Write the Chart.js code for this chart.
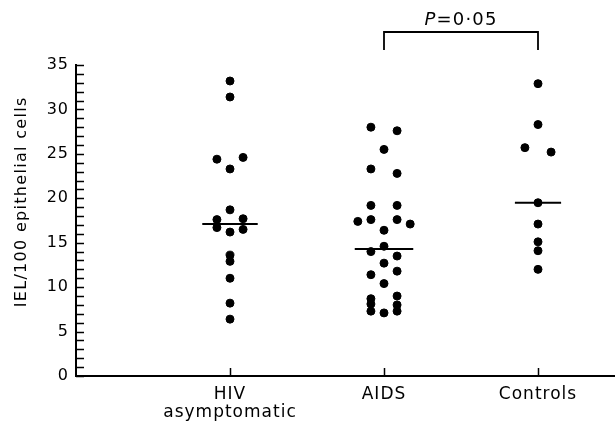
<!DOCTYPE html>
<html>
<head>
<meta charset="utf-8">
<script src="https://cdn.jsdelivr.net/npm/chart.js@4"></script>
<style>
    html, body { margin: 0; padding: 0; background: #fff; }
    #wrap { width: 615px; height: 424px; }
</style>
</head>
<body>
<div id="wrap"><canvas id="myChart" width="615" height="424"></canvas></div>
<script>
// categories along the x axis (one entry per group, multi-line where needed)
const groups = [['HIV', 'asymptomatic'], 'AIDS', 'Controls'];

// IEL per 100 epithelial cells
const hivValues = [33.2, 31.4, 24.4, 24.6, 23.3, 18.7, 17.6, 17.7, 16.7, 16.5, 16.2, 13.6, 12.9, 11.0, 8.2, 6.4];
const hivLanes  = [0, 0, -1, 1, 0, 0, -1, 1, -1, 1, 0, 0, 0, 0, 0, 0];

const aidsValues = [28.0, 27.6, 25.5, 23.3, 22.8, 19.2, 19.2, 17.4, 17.6, 17.6, 17.1, 16.4, 14.6, 14.0, 13.5, 12.7, 11.4, 11.8, 10.4, 8.7, 9.0, 8.1, 8.0, 7.3, 7.3, 7.1];
const aidsLanes  = [-1, 1, 0, -1, 1, -1, 1, -2, -1, 1, 2, 0, 0, -1, 1, 0, -1, 1, 0, -1, 1, -1, 1, -1, 1, 0];

const controlValues = [32.9, 28.3, 25.7, 25.2, 19.5, 17.1, 15.1, 14.1, 12.0];
const controlLanes  = [0, 0, -1, 1, 0, 0, 0, 0, 0];

// median of each group (horizontal bars)
const medians = [17.1, 14.3, 19.5];

const yMax = 35;
const yTickStep = 5;
const yTitle = 'IEL/100 epithelial cells';
const pValueText = '=0\u00B705';

const groupData = [
    { values: hivValues, lanes: hivLanes },
    { values: aidsValues, lanes: aidsLanes },
    { values: controlValues, lanes: controlLanes }
];

const laneGap = 0.085;
const medianHalfWidth = [0.18, 0.19, 0.15];

const points = [];
groupData.forEach((g, i) => {
    g.values.forEach((v, j) => {
        points.push({ x: i + 1 + g.lanes[j] * laneGap, y: v });
    });
});

const datasets = [{
    type: 'scatter',
    data: points,
    backgroundColor: '#000',
    borderColor: '#000',
    pointRadius: 4,
    pointHoverRadius: 4
}];

medians.forEach((m, i) => {
    datasets.push({
        type: 'line',
        data: [{ x: i + 1 - medianHalfWidth[i], y: m }, { x: i + 1 + medianHalfWidth[i], y: m }],
        borderColor: '#000',
        borderWidth: 2,
        pointRadius: 0
    });
});

const FONT = '"DejaVu Sans", sans-serif';

// ticks of this figure point into the plot, so they are drawn here
const innerTicks = {
    id: 'innerTicks',
    beforeDraw(chart) {
        chart.ctx.letterSpacing = '1px';
    },
    afterDraw(chart) {
        const ctx = chart.ctx;
        const { x, y } = chart.scales;
        const area = chart.chartArea;
        ctx.save();
        ctx.strokeStyle = '#000';
        ctx.lineWidth = 1.5;
        ctx.beginPath();
        for (let v = 0; v <= yMax; v++) {
            const py = Math.round(y.getPixelForValue(v)) + 0.5;
            ctx.moveTo(area.left, py);
            ctx.lineTo(area.left + 8, py);
        }
        groups.forEach((g, i) => {
            const px = Math.round(x.getPixelForValue(i + 1)) + 0.5;
            ctx.moveTo(px, area.bottom);
            ctx.lineTo(px, area.bottom - 8);
        });
        ctx.stroke();

        // y axis title
        ctx.fillStyle = '#000';
        ctx.letterSpacing = '1.3px';
        ctx.font = '16px ' + FONT;
        ctx.textAlign = 'center';
        ctx.textBaseline = 'middle';
        ctx.translate(22, y.getPixelForValue(19.6));
        ctx.rotate(-Math.PI / 2);
        ctx.fillText(yTitle, 0, 0);
        ctx.restore();

        // significance bracket between AIDS and Controls
        ctx.save();
        const x1 = x.getPixelForValue(2);
        const x2 = x.getPixelForValue(3);
        const top = area.top - 33;
        ctx.strokeStyle = '#000';
        ctx.lineWidth = 1.8;
        ctx.beginPath();
        ctx.moveTo(x1, area.top - 15);
        ctx.lineTo(x1, top);
        ctx.lineTo(x2, top);
        ctx.lineTo(x2, area.top - 15);
        ctx.stroke();

        ctx.letterSpacing = '1.2px';
        ctx.fillStyle = '#000';
        ctx.textBaseline = 'middle';
        ctx.font = 'italic 18px ' + FONT;
        const pw = ctx.measureText('P').width;
        ctx.font = '18px ' + FONT;
        const rw = ctx.measureText(pValueText).width;
        const start = (x1 + x2) / 2 - (pw + rw) / 2;
        ctx.textAlign = 'left';
        ctx.font = 'italic 18px ' + FONT;
        ctx.fillText('P', start, area.top - 45);
        ctx.font = '18px ' + FONT;
        ctx.fillText(pValueText, start + pw, area.top - 45);
        ctx.restore();
        ctx.letterSpacing = '0px';
    }
};

const ctx = document.getElementById('myChart').getContext('2d');
const myChart = new Chart(ctx, {
    type: 'scatter',
    data: { datasets: datasets },
    options: {
        responsive: false,
        animation: false,
        layout: { autoPadding: false, padding: { top: 65, left: 0, right: 0, bottom: 0 } },
        plugins: {
            legend: { display: false },
            tooltip: { enabled: false }
        },
        scales: {
            x: {
                type: 'linear',
                min: 0,
                max: 3.5,
                afterBuildTicks: scale => {
                    scale.ticks = groups.map((g, i) => ({ value: i + 1 }));
                },
                afterFit: scale => { scale.height = 48; },
                ticks: {
                    color: '#000',
                    font: { family: FONT, size: 17, lineHeight: 1.1 },
                    padding: 9,
                    maxRotation: 0,
                    autoSkip: false,
                    callback: value => groups[value - 1]
                },
                grid: { drawOnChartArea: false, drawTicks: false },
                border: { color: '#000', width: 2 }
            },
            y: {
                min: 0,
                max: yMax,
                afterFit: scale => { scale.width = 76; },
                ticks: {
                    stepSize: yTickStep,
                    color: '#000',
                    font: { family: FONT, size: 16 },
                    padding: 7
                },
                grid: { drawOnChartArea: false, drawTicks: false },
                border: { color: '#000', width: 2 }
            }
        }
    },
    plugins: [innerTicks]
});
</script>
</body>
</html>
